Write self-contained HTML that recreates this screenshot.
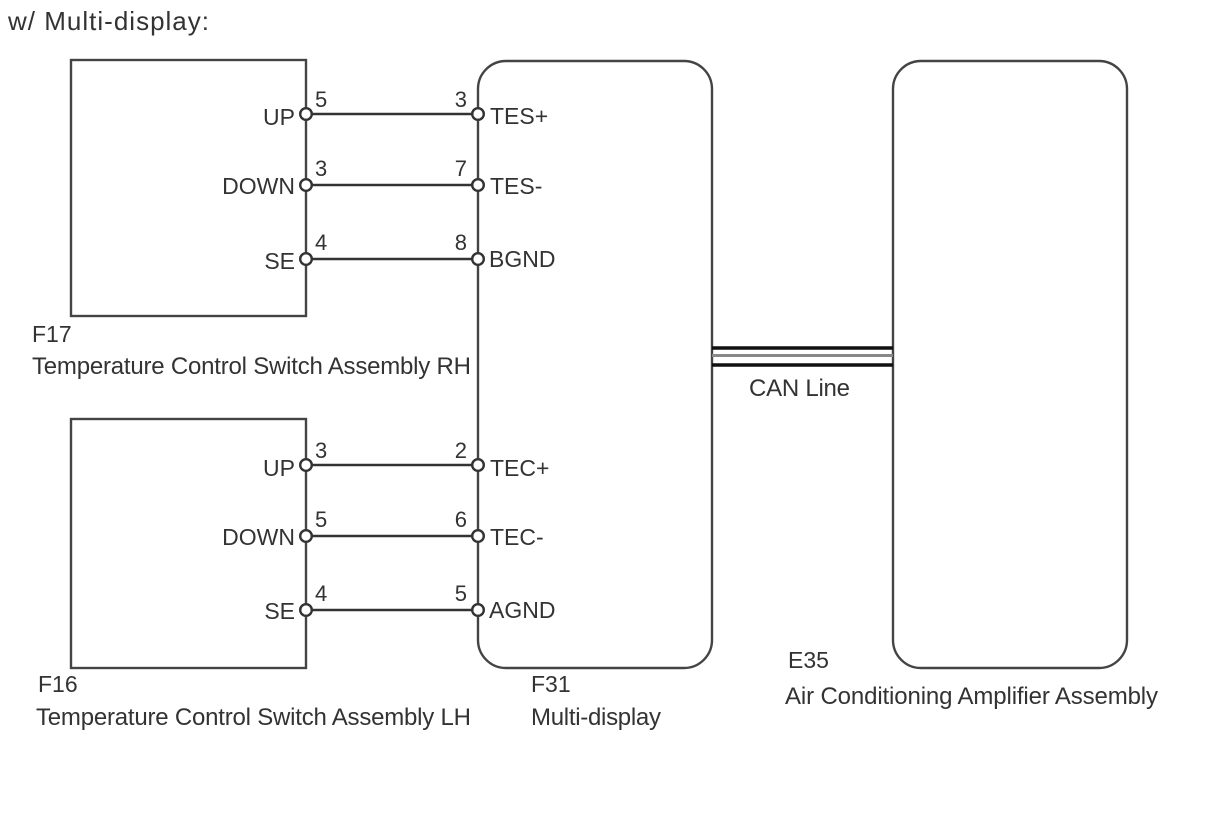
<!DOCTYPE html>
<html><head><meta charset="utf-8"><style>
html,body{margin:0;padding:0;background:#fff}
svg{display:block;filter:blur(.35px)}
text{font-family:"Liberation Sans",sans-serif;font-size:23px;fill:#333}
.n{font-size:22px}
.e{text-anchor:end}
.l{font-size:24px}
</style></head><body>
<svg width="1210" height="814" viewBox="0 0 1210 814" xmlns="http://www.w3.org/2000/svg">
<g fill="none" stroke="#444" stroke-width="2.4">
<rect x="71" y="60" width="235" height="256"/>
<rect x="71" y="419" width="235" height="249"/>
<rect x="478" y="61" width="234" height="607" rx="28"/>
<rect x="893" y="61" width="234" height="607" rx="28"/>
<path d="M306 114H478M306 185H478M306 259H478M306 465H478M306 536H478M306 610H478" stroke="#333" stroke-width="2.6"/>
</g>
<g fill="none" stroke="#111">
<path d="M712 348H893" stroke-width="3.400"/>
<path d="M712 355.500H893" stroke="#888" stroke-width="3"/>
<path d="M712 365H893" stroke-width="3.400"/>
</g>
<g fill="#fff" stroke="#333" stroke-width="2.4">
<circle cx="306" cy="114" r="5.800"/><circle cx="306" cy="185" r="5.800"/><circle cx="306" cy="259" r="5.800"/>
<circle cx="306" cy="465" r="5.800"/><circle cx="306" cy="536" r="5.800"/><circle cx="306" cy="610" r="5.800"/>
<circle cx="478" cy="114" r="5.800"/><circle cx="478" cy="185" r="5.800"/><circle cx="478" cy="259" r="5.800"/>
<circle cx="478" cy="465" r="5.800"/><circle cx="478" cy="536" r="5.800"/><circle cx="478" cy="610" r="5.800"/>
</g>
<text x="8" y="30" style="font-size:26px" textLength="201">w/ Multi-display:</text>

<text class="e" x="295" y="125">UP</text>
<text class="e" x="295" y="194">DOWN</text>
<text class="e" x="295" y="269">SE</text>
<text class="e" x="295" y="476">UP</text>
<text class="e" x="295" y="545">DOWN</text>
<text class="e" x="295" y="619">SE</text>

<text class="n" x="315" y="107">5</text>
<text class="n" x="315" y="176">3</text>
<text class="n" x="315" y="250">4</text>
<text class="n" x="315" y="458">3</text>
<text class="n" x="315" y="527">5</text>
<text class="n" x="315" y="601">4</text>

<text class="n e" x="467" y="107">3</text>
<text class="n e" x="467" y="176">7</text>
<text class="n e" x="467" y="250">8</text>
<text class="n e" x="467" y="458">2</text>
<text class="n e" x="467" y="527">6</text>
<text class="n e" x="467" y="601">5</text>

<text x="490" y="124">TES+</text>
<text x="490" y="194">TES-</text>
<text x="489" y="267">BGND</text>
<text x="490" y="476">TEC+</text>
<text x="490" y="545">TEC-</text>
<text x="489" y="618">AGND</text>

<text x="32" y="342">F17</text>
<text class="l" x="32" y="374" textLength="439">Temperature Control Switch Assembly RH</text>
<text x="38" y="692">F16</text>
<text class="l" x="36" y="725" textLength="435">Temperature Control Switch Assembly LH</text>
<text x="531" y="692">F31</text>
<text class="l" x="531" y="725" textLength="130">Multi-display</text>
<text class="l" x="749" y="396" textLength="101">CAN Line</text>
<text x="788" y="668">E35</text>
<text class="l" x="785" y="704" textLength="373">Air Conditioning Amplifier Assembly</text>
</svg>
</body></html>
